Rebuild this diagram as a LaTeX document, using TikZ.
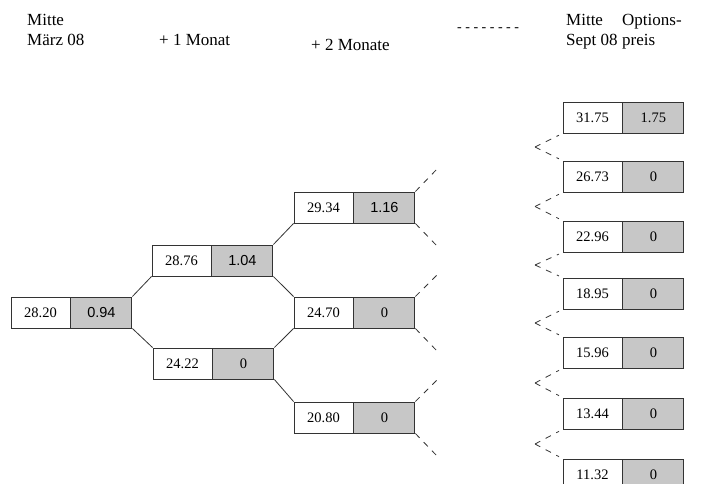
\documentclass[tikz,border=0pt]{standalone}
\usepackage{fontspec}
\setmainfont{Liberation Serif}
\newfontfamily\sansnum{Liberation Sans}
\begin{document}
\begin{tikzpicture}[x=1pt,y=-1pt,
  cellw/.style={draw=black!80, line width=0.9pt, fill=white, minimum width=59pt,
    minimum height=31pt, inner sep=0pt, font=\fontsize{14.5}{15}\selectfont},
  cellg/.style={cellw, fill=black!22, minimum width=61pt, anchor=west},
  link/.style={draw=black!80, line width=0.8pt},
  dlink/.style={link, dash pattern=on 6pt off 6pt},
  head/.style={font=\fontsize{17}{20}\selectfont, align=left, inner sep=0pt}]

\useasboundingbox (0,0) rectangle (702,483);

% column headings
\node[head, anchor=north west] (h0) at (27,14) {Mitte\\März 08};
\node[head, anchor=base west] (h1) at (159,45) {+ 1 Monat};
\node[head, anchor=base west] (h2) at (311,50) {+ 2 Monate};
\node[head, anchor=base west, font=\fontsize{14}{14}\selectfont] (hd) at (457,31) {- - - - - - - -};
\node[head, anchor=north west] (h6) at (566,14) {Mitte\\Sept 08};
\node[head, anchor=north west] (hp) at (622,14) {Options-\\preis};

% today
\node[cellw] (r) at (40.5,312.5) {28.20};
\node[cellg] (rg) at (r.east) {\sansnum 0.94};

% after one month
\node[cellw] (a) at (181.5,260.5) {28.76};
\node[cellg] (ag) at (a.east) {\sansnum 1.04};
\node[cellw] (b) at (182.5,363.5) {24.22};
\node[cellg] (bg) at (b.east) {0};

% after two months
\node[cellw] (c) at (323.5,207.5) {29.34};
\node[cellg] (cg) at (c.east) {\sansnum 1.16};
\node[cellw] (d) at (323.5,312.5) {24.70};
\node[cellg] (dg) at (d.east) {0};
\node[cellw] (e) at (323.5,417.5) {20.80};
\node[cellg] (eg) at (e.east) {0};

% maturity
\node[cellw] (f1) at (592.5,117.5) {31.75};
\node[cellg] (f1g) at (f1.east) {1.75};
\node[cellw] (f2) at (592.5,176.5) {26.73};
\node[cellg] (f2g) at (f2.east) {0};
\node[cellw] (f3) at (592.5,236.5) {22.96};
\node[cellg] (f3g) at (f3.east) {0};
\node[cellw] (f4) at (592.5,293.5) {18.95};
\node[cellg] (f4g) at (f4.east) {0};
\node[cellw] (f5) at (592.5,352.5) {15.96};
\node[cellg] (f5g) at (f5.east) {0};
\node[cellw] (f6) at (592.5,413.5) {13.44};
\node[cellg] (f6g) at (f6.east) {0};
\node[cellw] (f7) at (592.5,474.5) {11.32};
\node[cellg] (f7g) at (f7.east) {0};

% tree branches
\draw[link] (rg.north east) -- (a.south west);
\draw[link] (rg.south east) -- (b.north west);
\draw[link] (ag.north east) -- (c.south west);
\draw[link] (ag.south east) -- (d.north west);
\draw[link] (bg.north east) -- (d.south west);
\draw[link] (bg.south east) -- (e.north west);

% branches continuing to later months
\coordinate (cu) at (438,168);
\coordinate (cd) at (438,247);
\coordinate (du) at (438,274);
\coordinate (dd) at (438,352);
\coordinate (eu) at (438,379);
\coordinate (ed) at (438,457);
\draw[dlink] (cg.north east) -- (cu);
\draw[dlink] (cg.south east) -- (cd);
\draw[dlink] (dg.north east) -- (du);
\draw[dlink] (dg.south east) -- (dd);
\draw[dlink] (eg.north east) -- (eu);
\draw[dlink] (eg.south east) -- (ed);

% branches arriving at maturity
\foreach \i/\y in {1/147,2/206.5,3/265,4/323,5/383,6/444}{
  \coordinate (v\i) at (535,\y);
}
\foreach \i/\j in {1/2,2/3,3/4,4/5,5/6,6/7}{
  \draw[dlink, shorten >=4pt] (v\i) -- (f\i.south west);
  \draw[dlink, shorten >=4pt] (v\i) -- (f\j.north west);
}
\end{tikzpicture}
\end{document}
